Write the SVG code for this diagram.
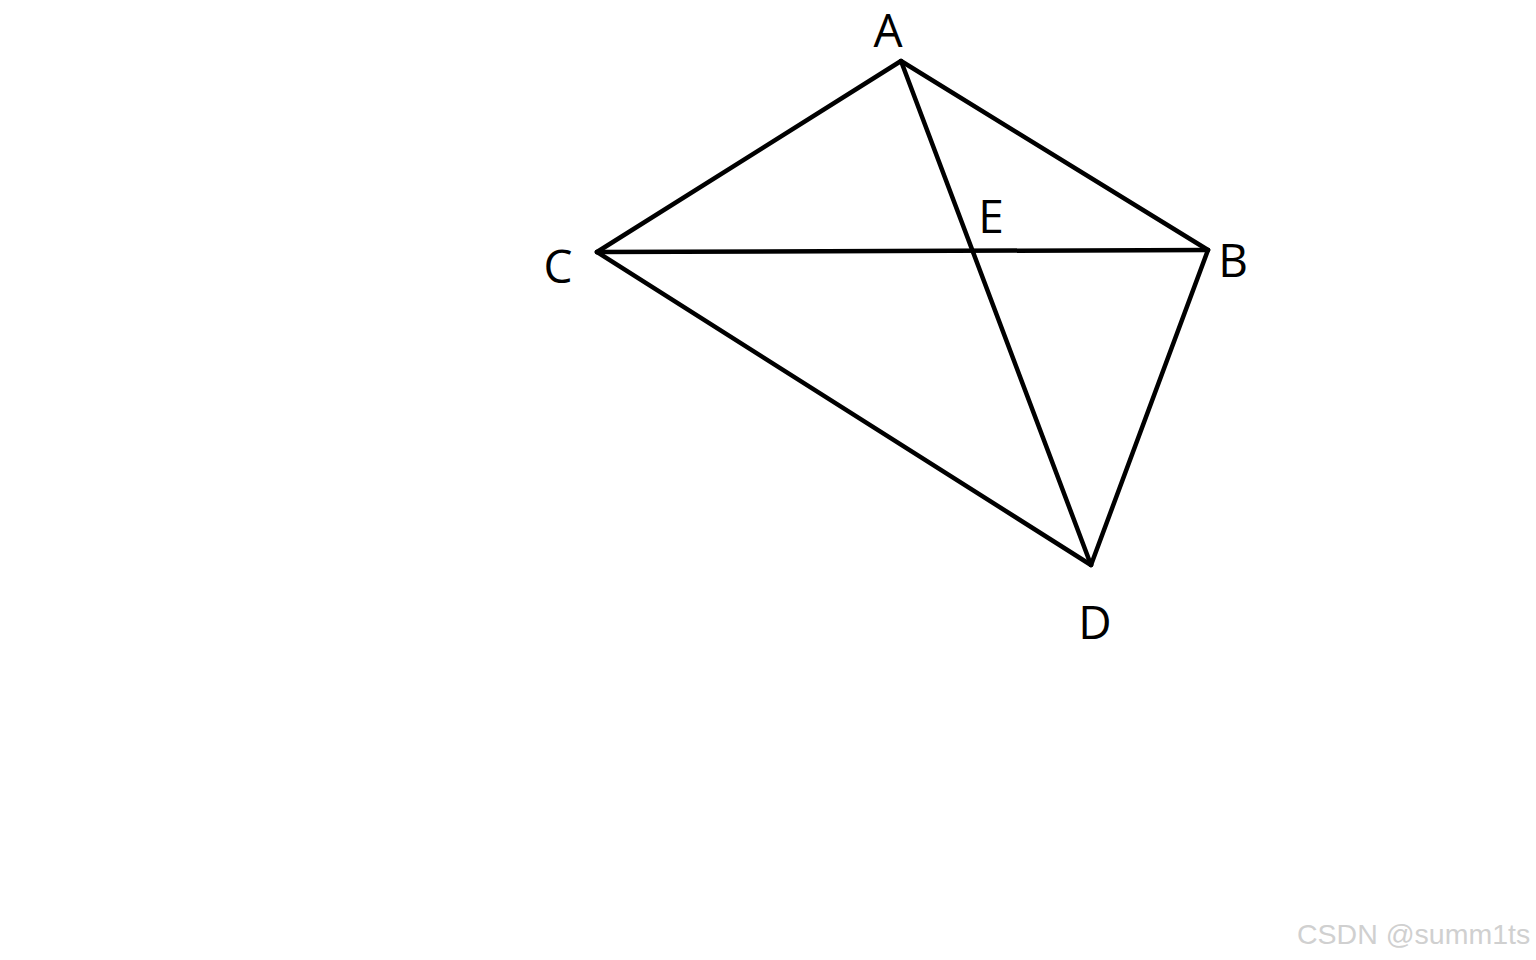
<svg xmlns="http://www.w3.org/2000/svg" width="1536" height="960" viewBox="0 0 1536 960">
<style>
.edge{stroke:#000;stroke-width:4.5;fill:none;stroke-linecap:round;stroke-linejoin:round}
.lbl{font-family:"Open Sans","Noto Sans",sans-serif;font-size:46px;fill:#000;text-anchor:middle}
.wm{font-family:"Liberation Sans",Arial,sans-serif;font-size:28.5px;fill:#d0d0d0}
</style>
<rect width="1536" height="960" fill="#fff"/>
<g id="connectors">
<line class="edge" x1="901" y1="61" x2="597" y2="252"/>
<line class="edge" x1="901" y1="61" x2="1208" y2="250"/>
<line class="edge" x1="901" y1="61" x2="1091" y2="565"/>
<line class="edge" x1="597" y1="252" x2="1208" y2="250"/>
<line class="edge" x1="597" y1="252" x2="1091" y2="565"/>
<line class="edge" x1="1208" y1="250" x2="1091" y2="565"/>
</g>
<g id="node-A"><text class="lbl" x="888" y="47">A</text></g>
<g id="node-B"><text class="lbl" x="1233" y="277">B</text></g>
<g id="node-C"><text class="lbl" x="558" y="283">C</text></g>
<g id="node-D"><text class="lbl" x="1095" y="639">D</text></g>
<g id="node-E"><text class="lbl" x="991" y="233">E</text></g>
<text class="wm" x="1297" y="944">CSDN @summ1ts</text>
</svg>
